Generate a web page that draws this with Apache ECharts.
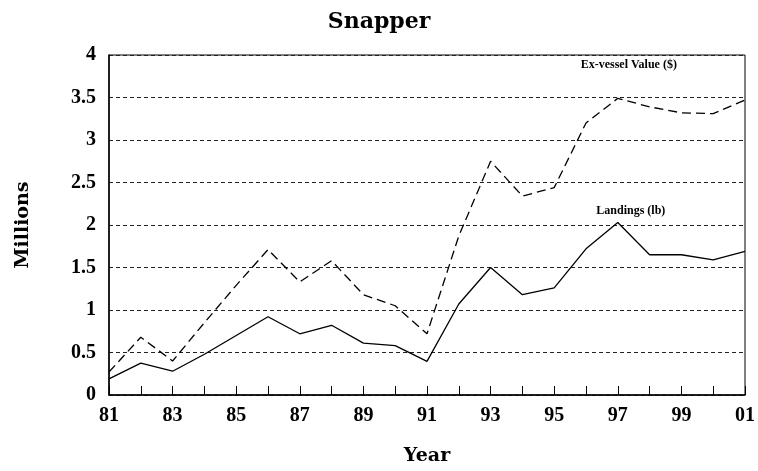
<!DOCTYPE html>
<html>
<head>
<meta charset="utf-8">
<title>Snapper</title>
</head>
<body style="margin:0;background:#fff;">
<div id="main" style="width:758px;height:471px;"></div>
<script src="https://cdn.jsdelivr.net/npm/echarts@6/dist/echarts.min.js"></script>
<script>
// years shown as two digits, every other one labelled
var years = ['81','82','83','84','85','86','87','88','89','90','91','92','93','94','95','96','97','98','99','00','01'];
// ex-vessel value ($), millions
var exVessel = [0.27,0.68,0.40,0.85,1.29,1.71,1.33,1.58,1.18,1.05,0.72,1.87,2.75,2.34,2.44,3.20,3.49,3.39,3.32,3.31,3.47];
// landings (lb), millions
var landings = [0.19,0.375,0.28,0.48,0.70,0.92,0.72,0.82,0.61,0.58,0.395,1.07,1.50,1.18,1.26,1.72,2.03,1.65,1.65,1.59,1.69];
var yTicks = [0, 0.5, 1, 1.5, 2, 2.5, 3, 3.5, 4];

var serif = '"DejaVu Serif", serif';
var tickFont = '"Liberation Serif", "Times New Roman", serif';

var myChart = echarts.init(document.getElementById('main'));
myChart.setOption({
	backgroundColor: '#fff',
	animation: false,
	title: {
		text: 'Snapper',
		left: 'center',
		top: 6,
		textStyle: {fontFamily: serif, fontWeight: 'bold', fontSize: 22, color: '#000'}
	},
	grid: {
		left: 109, right: 11, top: 55, bottom: 75,
		show: true, borderColor: '#000', borderWidth: 1
	},
	xAxis: {
		type: 'category',
		data: years,
		boundaryGap: false,
		name: 'Year',
		nameLocation: 'middle',
		nameGap: 52,
		nameTextStyle: {fontFamily: serif, fontWeight: 'bold', fontSize: 19, color: '#000'},
		axisLine: {lineStyle: {color: '#000', width: 1.5}},
		axisTick: {inside: true, length: 9, interval: 0, lineStyle: {color: '#000'}},
		axisLabel: {interval: 1, margin: 11, fontFamily: tickFont, fontWeight: 'bold', fontSize: 20, color: '#000'},
		splitLine: {show: false}
	},
	yAxis: {
		type: 'value',
		min: yTicks[0],
		max: yTicks[yTicks.length - 1],
		interval: 0.5,
		name: 'Millions',
		nameLocation: 'middle',
		nameRotate: 90,
		nameGap: 76,
		nameTextStyle: {fontFamily: serif, fontWeight: 'bold', fontSize: 19, color: '#000'},
		axisLine: {show: true, lineStyle: {color: '#000', width: 1.5}},
		axisTick: {show: false},
		axisLabel: {margin: 13, fontFamily: tickFont, fontWeight: 'bold', fontSize: 20, color: '#000'},
		splitLine: {lineStyle: {color: '#222', width: 1, type: [4, 3]}}
	},
	series: [
		{
			name: 'Ex-vessel Value ($)',
			type: 'line',
			data: exVessel,
			symbol: 'none',
			lineStyle: {color: '#000', width: 1.3, type: [9, 5]},
			markPoint: {
				symbol: 'circle', symbolSize: 0, silent: true,
				data: [{coord: ['97', 3.88]}],
				label: {show: true, formatter: 'Ex-vessel Value ($)', offset: [11, 0],
					fontFamily: tickFont, fontWeight: 'bold', fontSize: 12, color: '#000'}
			}
		},
		{
			name: 'Landings (lb)',
			type: 'line',
			data: landings,
			symbol: 'none',
			lineStyle: {color: '#000', width: 1.3},
			markPoint: {
				symbol: 'circle', symbolSize: 0, silent: true,
				data: [{coord: ['97', 2.16]}],
				label: {show: true, formatter: 'Landings (lb)', offset: [13, 0],
					fontFamily: tickFont, fontWeight: 'bold', fontSize: 12, color: '#000'}
			}
		}
	]
});
</script>
</body>
</html>
